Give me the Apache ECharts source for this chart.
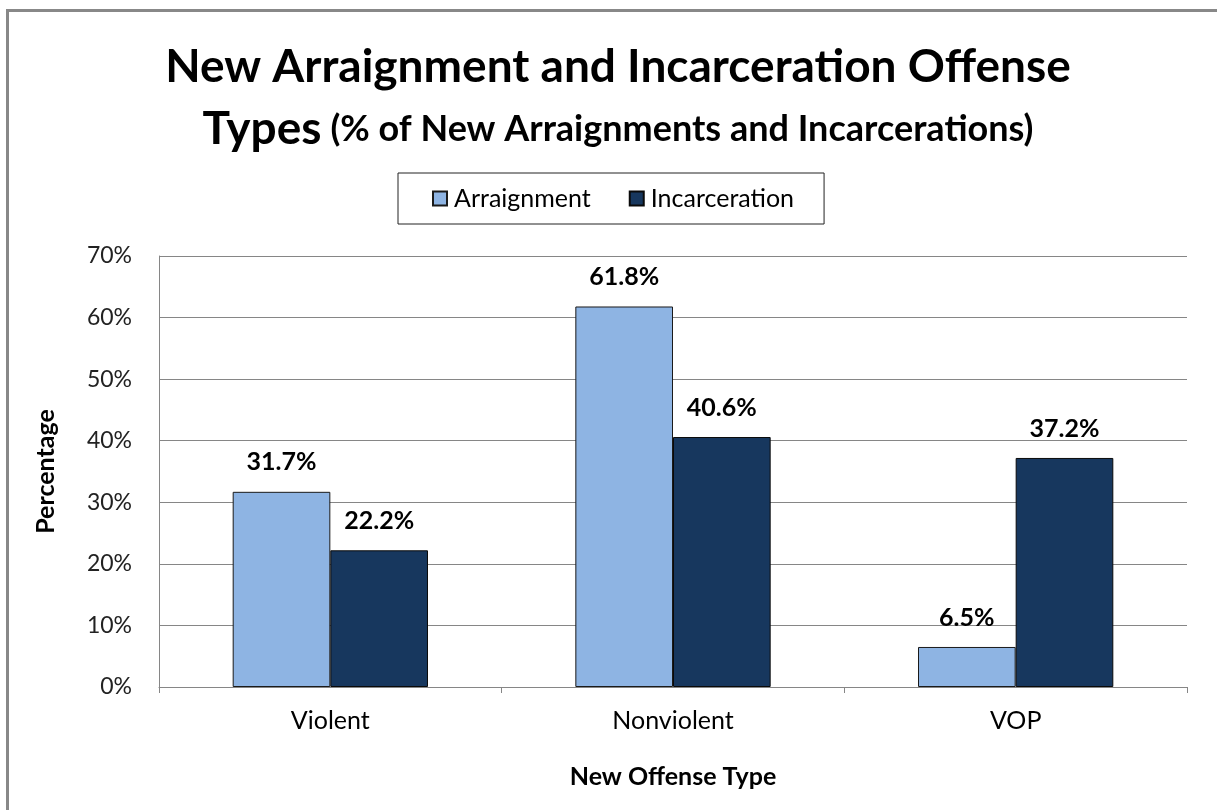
<!DOCTYPE html>
<html>
<head>
<meta charset="utf-8">
<script src="https://cdn.jsdelivr.net/npm/echarts@6/dist/echarts.min.js"></script>
<style>html,body{margin:0;padding:0;background:#fff}#c{width:1217px;height:810px}</style>
</head>
<body>
<div id="c"></div>
<script>
const categories = ['Violent', 'Nonviolent', 'VOP'];
const arraignment = [31.7, 61.8, 6.5];
const incarceration = [22.2, 40.6, 37.2];
const yTicks = [0, 10, 20, 30, 40, 50, 60, 70];

const FONT = 'Lato';
const chart = echarts.init(document.getElementById('c'));
const labelOpt = {
  show: true, position: 'top', distance: 17,
  formatter: p => p.value.toFixed(1) + '%',
  fontFamily: FONT, fontWeight: 'bold', fontSize: 25, color: '#000'
};
chart.setOption({
  animation: false,
  backgroundColor: '#fff',
  graphic: [{
    type: 'rect', left: 5, top: 8, shape: { width: 1230, height: 830 },
    style: { fill: 'none', stroke: '#888', lineWidth: 3 }, z: 0
  }],
  title: {
    left: 613, top: 31, textAlign: 'center',
    text: '{a|New Arraignment and Incarceration Offense}\n{a|Types} {c| }{b|(% of New Arraignments and Incarcerations)}',
    textStyle: {
      rich: {
        a: { fontFamily: FONT, fontWeight: 'bold', fontSize: 46, color: '#000', lineHeight: 62 },
        b: { fontFamily: FONT, fontWeight: 'bold', fontSize: 36, color: '#000', lineHeight: 62 },
        c: { fontSize: 4, width: 4, lineHeight: 62 }
      }
    }
  },
  legend: {
    left: 398, top: 173,
    itemWidth: 14, itemHeight: 14, icon: 'rect', itemGap: 38,
    padding: [13, 30, 13, 34],
    borderColor: '#222', borderWidth: 1,
    textStyle: { fontFamily: FONT, fontSize: 25, color: '#000', padding: [0, 0, 0, 2] },
    data: ['Arraignment', 'Incarceration']
  },
  grid: { left: 159, right: 30, top: 256, bottom: 123, containLabel: false },
  xAxis: {
    type: 'category', data: categories,
    name: 'New Offense Type', nameLocation: 'middle', nameGap: 77,
    nameTextStyle: { fontFamily: FONT, fontWeight: 'bold', fontSize: 25, color: '#000' },
    axisLine: { lineStyle: { color: '#868686', width: 1 } },
    axisTick: { show: true, length: 6, lineStyle: { color: '#868686' } },
    axisLabel: { fontFamily: FONT, fontSize: 25, color: '#000', margin: 21 }
  },
  yAxis: {
    type: 'value', min: yTicks[0], max: yTicks[yTicks.length - 1], interval: 10,
    name: 'Percentage', nameLocation: 'middle', nameGap: 101, nameRotate: 90,
    nameTextStyle: { fontFamily: FONT, fontWeight: 'bold', fontSize: 25, color: '#000' },
    axisLine: { show: true, lineStyle: { color: '#868686', width: 1 } },
    axisTick: { show: false },
    splitLine: { lineStyle: { color: '#868686', width: 1 } },
    axisLabel: { fontFamily: FONT, fontSize: 23, color: '#222', margin: 27, formatter: v => v + '%' }
  },
  series: [
    {
      name: 'Arraignment', type: 'bar', data: arraignment,
      barGap: '0%', barCategoryGap: '43%',
      itemStyle: { color: '#8EB4E3', borderColor: '#1a1a1a', borderWidth: 1 },
      label: labelOpt
    },
    {
      name: 'Incarceration', type: 'bar', data: incarceration,
      barGap: '0%', barCategoryGap: '43%',
      itemStyle: { color: '#17375E', borderColor: '#0a0a0a', borderWidth: 1 },
      label: labelOpt
    }
  ]
});
</script>
</body>
</html>
